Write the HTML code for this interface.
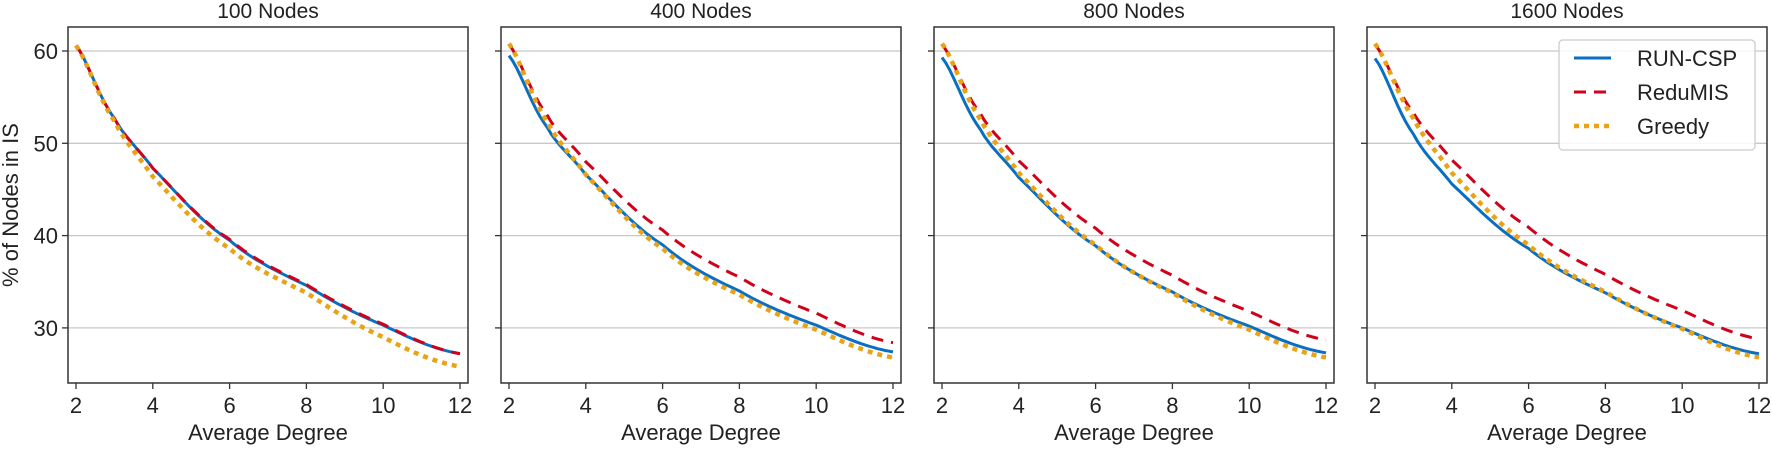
<!DOCTYPE html>
<html><head><meta charset="utf-8"><style>
html,body{margin:0;padding:0;background:#fff;}
svg text{font-family:"Liberation Sans",Arial,sans-serif;fill:#222;}
</style></head><body>
<svg id="s" width="1772" height="447" xmlns="http://www.w3.org/2000/svg"></svg>
<script>
const s=document.getElementById('s');
const NS='http://www.w3.org/2000/svg';
function el(t,a,txt){const e=document.createElementNS(NS,t);for(const k in a)e.setAttribute(k,a[k]);if(txt!==undefined)e.textContent=txt;s.appendChild(e);return e;}
const lefts=[68,501,934,1367],W=400,T=27,B=383;
const titles=['100 Nodes','400 Nodes','800 Nodes','1600 Nodes'];
const ds=[2,3,4,6,8,10,12];
const data=[
 {run:[60.6,52.7,47.3,39.5,34.6,30.3,27.2],red:[60.6,52.7,47.3,39.6,34.7,30.4,27.2],gr:[60.6,52.4,46.4,38.6,33.8,29.0,25.8]},
 {run:[59.5,51.7,46.6,39.0,34.0,30.3,27.4],red:[60.7,53.0,48.0,40.6,35.5,31.6,28.4],gr:[60.8,52.3,46.6,38.6,33.6,29.8,26.8]},
 {run:[59.3,51.5,46.3,38.9,33.9,30.2,27.3],red:[60.7,53.2,48.1,40.8,35.7,31.8,28.7],gr:[60.8,52.6,46.8,39.0,33.8,29.8,26.8]},
 {run:[59.2,51.0,45.6,38.6,33.8,30.0,27.2],red:[60.7,53.3,48.2,40.9,35.8,31.9,28.8],gr:[60.8,52.7,46.8,39.0,33.9,29.9,26.8]}
];
const yv=v=>51+(60-v)*9.23;
function interp(vals,d){
  const xs=ds.map(Math.log),x=Math.log(d);
  let i=0;while(i<xs.length-2&&x>xs[i+1])i++;
  const p0=vals[Math.max(i-1,0)],p1=vals[i],p2=vals[i+1],p3=vals[Math.min(i+2,vals.length-1)];
  const t=(x-xs[i])/(xs[i+1]-xs[i]);
  return 0.5*((2*p1)+(-p0+p2)*t+(2*p0-5*p1+4*p2-p3)*t*t+(-p0+3*p1-3*p2+p3)*t*t*t);
}
lefts.forEach((L,p)=>{
  const xd=d=>L+8+(d-2)*38.4;
  [30,40,50,60].forEach(v=>{el('line',{x1:L,x2:L+W,y1:yv(v),y2:yv(v),stroke:'#c8c8c8','stroke-width':1.3});
    el('line',{x1:L-6,x2:L,y1:yv(v),y2:yv(v),stroke:'#333','stroke-width':1.3});
    if(p==0)el('text',{x:L-10,y:yv(v)+8,'font-size':22,'text-anchor':'end'},v);});
  [2,4,6,8,10,12].forEach(d=>{el('line',{x1:xd(d),x2:xd(d),y1:B,y2:B+6,stroke:'#333','stroke-width':1.3});
    el('text',{x:xd(d),y:413,'font-size':22,'text-anchor':'middle'},d);});
  el('text',{x:L+W/2,y:440,'font-size':22,'text-anchor':'middle'},'Average Degree');
  el('text',{x:L+W/2,y:18,'font-size':21,'text-anchor':'middle'},titles[p]);
  const series=[['gr','#e8a317',{'stroke-dasharray':'5 5'},4.5],['red','#d0021b',{'stroke-dasharray':'12 8'},3],['run','#0a6fc2',{},3]];
  [series[2],series[1],series[0]].forEach(([k,c,extra,w])=>{
    let pts=[];for(let d=2;d<=12.0001;d+=0.1)pts.push(xd(d).toFixed(1)+','+yv(interp(data[p][k],d)).toFixed(1));
    const a={points:pts.join(' '),fill:'none',stroke:c,'stroke-width':w};Object.assign(a,extra);el('polyline',a);
  });
  el('rect',{x:L,y:T,width:W,height:B-T,fill:'none',stroke:'#333','stroke-width':1.5});
});
el('text',{x:0,y:0,'font-size':22,'text-anchor':'middle',transform:'translate(18,205) rotate(-90)'},'% of Nodes in IS');
el('rect',{x:1559,y:40,width:196,height:110,rx:4,fill:'#fff','fill-opacity':0.85,stroke:'#ccc','stroke-width':1.3});
el('line',{x1:1574,x2:1611,y1:58,y2:58,stroke:'#0a6fc2','stroke-width':3});
el('line',{x1:1574,x2:1611,y1:92,y2:92,stroke:'#d0021b','stroke-width':3,'stroke-dasharray':'12 8'});
el('line',{x1:1574,x2:1611,y1:126,y2:126,stroke:'#e8a317','stroke-width':4.5,'stroke-dasharray':'5 5'});
el('text',{x:1637,y:66,'font-size':22},'RUN-CSP');
el('text',{x:1637,y:100,'font-size':22},'ReduMIS');
el('text',{x:1637,y:134,'font-size':22},'Greedy');
</script>
</body></html>
